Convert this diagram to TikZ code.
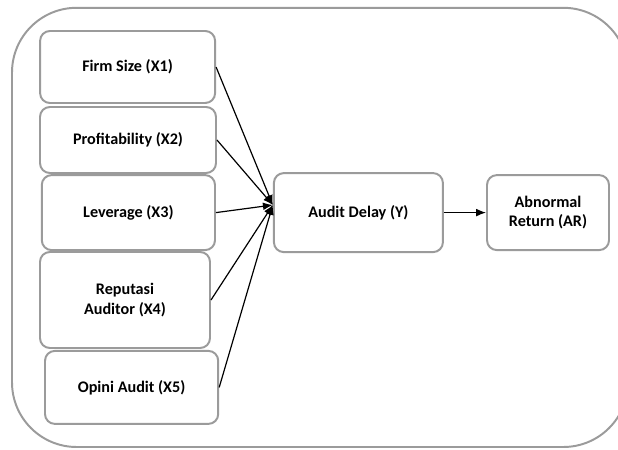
\documentclass[tikz,border=0pt]{standalone}
\usepackage{fontspec}
\setmainfont{Carlito}
\usepackage{tikz}
\usetikzlibrary{calc,shapes, arrows, arrows.meta}

\definecolor{boxgray}{RGB}{155,155,155}
\tikzset{
    varbox/.style={draw=boxgray, line width=1.4pt, rounded corners=7pt, fill=white,
        align=center, font=\bfseries\fontsize{11.5}{14}\selectfont, inner sep=2pt},
    link/.style={-{Latex[length=7pt,width=5.5pt]}, line width=0.85pt}
}

\begin{document}
\begin{tikzpicture}
        \clip (0,0) rectangle (15.45,11.225);
        \draw[boxgray, line width=1.4pt, rounded corners=46pt] (0.3,0.05) rectangle (15.7,11.03);
        \node[varbox, minimum width=4.375cm, minimum height=1.8cm] (firm) at (3.19,9.55) {Firm Size (X1)};
        \node[varbox, minimum width=4.4cm, minimum height=1.65cm] (prof) at (3.2,7.725) {Profitability (X2)};
        \node[varbox, minimum width=4.33cm, minimum height=1.875cm] (lev) at (3.21,5.91) {Leverage (X3)};
        \node[varbox, minimum width=4.25cm, minimum height=2.4cm] (rep) at (3.125,3.725) {Reputasi\\Auditor (X4)};
        \node[varbox, minimum width=4.33cm, minimum height=1.825cm] (opini) at (3.29,1.54) {Opini Audit (X5)};
        \node[varbox, minimum width=4.225cm, minimum height=1.975cm] (delay) at (8.96,5.91) {Audit Delay (Y)};
        \node[varbox, minimum width=3.05cm, minimum height=1.875cm] (ar) at (13.7,5.91) {Abnormal\\Return (AR)};
        \coordinate (hub) at (6.82,6.1);
        \foreach \n in {firm,prof,lev,rep,opini}
        \draw[link] (\n.east) -- (hub);
        \draw[link] (delay.east) -- (ar.west);
    \end{tikzpicture}
\end{document}
